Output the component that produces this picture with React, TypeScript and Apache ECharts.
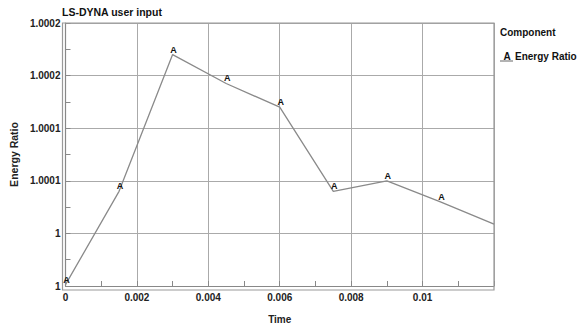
import React, { useEffect, useRef } from "react";
import * as echarts from "echarts";

const times = [0, 0.0015, 0.003, 0.0045, 0.006, 0.0075, 0.009, 0.0105, 0.012];
const energyRatio = [1.000001, 1.000072, 1.000176, 1.000154, 1.000136, 1.000072, 1.00008, 1.000064, 1.000047];
const markerLetter = "A";
const seriesName = "Energy Ratio";
const legendTitle = "Component";
const chartTitle = "LS-DYNA user input";

const FONT = "'Liberation Sans', Arial, sans-serif";

export default function App() {
  const ref = useRef<HTMLDivElement>(null);
  useEffect(() => {
    if (!ref.current) return;
    const chart = echarts.init(ref.current, undefined, { renderer: "svg" });
    const data = times.map((t, i) => {
      const item: any = { value: [t, energyRatio[i]] };
      if (i === times.length - 1) item.label = { show: false };
      return item;
    });
    chart.setOption({
      animation: false,
      backgroundColor: "#ffffff",
      textStyle: { fontFamily: FONT },
      grid: { left: 62.5, right: 90, top: 23, bottom: 39, containLabel: false, show: false },
      xAxis: {
        type: "value",
        min: 0,
        max: 0.012,
        interval: 0.002,
        name: "Time",
        nameLocation: "middle",
        nameGap: 28,
        nameTextStyle: { fontFamily: FONT, fontSize: 10, fontWeight: "bold", color: "#222" },
        axisLine: { show: true, lineStyle: { color: "#888", width: 1.2 } },
        axisTick: { show: true, inside: true, length: 5, lineStyle: { color: "#888" } },
        minorTick: { show: true, splitNumber: 2, length: 5, lineStyle: { color: "#888" } },
        splitLine: { show: true, lineStyle: { color: "#aaa", width: 1 } },
        axisLabel: {
          fontFamily: FONT,
          fontSize: 10,
          fontWeight: "bold",
          color: "#222",
          margin: 6,
          formatter: (v: number) => {
            if (Math.abs(v - 0.012) < 1e-9) return "";
            return String(Number(v.toFixed(4)));
          },
        },
      },
      yAxis: {
        type: "value",
        min: 1,
        max: 1.0002,
        interval: 0.00004,
        name: "Energy Ratio",
        nameLocation: "middle",
        nameGap: 40,
        nameRotate: 90,
        nameTextStyle: { fontFamily: FONT, fontSize: 10.5, fontWeight: "bold", color: "#222" },
        axisLine: { show: true, lineStyle: { color: "#888", width: 1.2 } },
        axisTick: { show: true, inside: true, length: 5, lineStyle: { color: "#888" } },
        minorTick: { show: true, splitNumber: 2, length: 5, lineStyle: { color: "#888" } },
        splitLine: { show: true, lineStyle: { color: "#aaa", width: 1 } },
        axisLabel: {
          fontFamily: FONT,
          fontSize: 10,
          fontWeight: "bold",
          color: "#222",
          margin: 5,
          formatter: (v: number) => String(Number(v.toFixed(4))),
        },
      },
      series: [
        {
          name: seriesName,
          type: "line",
          data,
          symbol: "circle",
          symbolSize: 1,
          itemStyle: { color: "rgba(0,0,0,0)" },
          lineStyle: { color: "#8a8a8a", width: 1.3 },
          label: {
            show: true,
            formatter: markerLetter,
            position: "top",
            distance: 0,
            offset: [1, 0],
            fontFamily: FONT,
            fontSize: 9,
            fontWeight: "bold",
            color: "#111",
          },
        },
      ],
      graphic: [
        {
          type: "rect",
          shape: { x: 62.5, y: 23, width: 431.5, height: 267 },
          style: { fill: "none", stroke: "#999", lineWidth: 1.2 },
          silent: true,
          z: 1,
        },
        {
          type: "text",
          x: 62,
          y: 12,
          style: {
            text: chartTitle,
            font: `bold 10.5px ${FONT}`,
            fill: "#111",
            textVerticalAlign: "middle",
          },
        },
        {
          type: "text",
          x: 500,
          y: 32,
          style: {
            text: legendTitle,
            font: `bold 10px ${FONT}`,
            fill: "#111",
            textVerticalAlign: "middle",
          },
        },
        {
          type: "line",
          shape: { x1: 500, y1: 61, x2: 513, y2: 61 },
          style: { stroke: "#666", lineWidth: 1 },
        },
        {
          type: "text",
          x: 503.5,
          y: 56,
          style: {
            text: markerLetter,
            font: `bold 10px ${FONT}`,
            fill: "#111",
            textVerticalAlign: "middle",
          },
        },
        {
          type: "text",
          x: 515,
          y: 56,
          style: {
            text: seriesName,
            font: `bold 10px ${FONT}`,
            fill: "#111",
            textVerticalAlign: "middle",
          },
        },
      ],
    });
    return () => chart.dispose();
  }, []);
  return <div ref={ref} style={{ width: 584, height: 329, position: "absolute", left: 0, top: 0 }} />;
}
